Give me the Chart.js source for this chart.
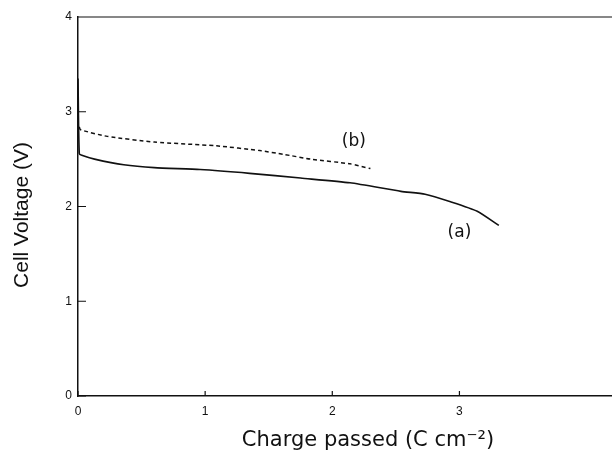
<!DOCTYPE html>
<html>
<head>
<meta charset="utf-8">
<script src="https://cdn.jsdelivr.net/npm/chart.js@4/dist/chart.umd.min.js"></script>
<style>
  html, body { margin: 0; padding: 0; background: #fff; }
  #wrap { width: 612px; height: 452px; }
</style>
</head>
<body>
<div id="wrap"><canvas id="myChart" width="612" height="452"></canvas></div>
<script>
'use strict';

// curve (a) - solid
var chargeA = [0, 0.01, 0.03, 0.13, 0.36, 0.6, 0.96, 1.35, 1.75, 2.14, 2.54, 2.73, 2.93, 3.14, 3.31];
var voltA = [3.35, 2.56, 2.54, 2.50, 2.44, 2.41, 2.39, 2.35, 2.30, 2.25, 2.16, 2.13, 2.05, 1.95, 1.80];

// curve (b) - dashed
var chargeB = [0.01, 0.02, 0.23, 0.6, 1.09, 1.43, 1.62, 1.83, 2.14, 2.30];
var voltB = [2.84, 2.81, 2.74, 2.68, 2.64, 2.59, 2.55, 2.50, 2.45, 2.40];

var xTicks = [0, 1, 2, 3];
var yTicks = [0, 1, 2, 3, 4];

function pts(xs, ys) {
  return xs.map(function (x, i) { return { x: x, y: ys[i] }; });
}

// inward ticks, top frame, curve labels and axis titles
var extras = {
  id: 'extras',
  afterDraw: function (chart) {
    var c = chart.ctx;
    var area = chart.chartArea;
    var sx = chart.scales.x;
    var sy = chart.scales.y;
    c.save();
    c.strokeStyle = '#111';
    c.lineWidth = 1.2;
    c.beginPath();
    c.moveTo(area.left, area.top);
    c.lineTo(area.right, area.top);
    yTicks.forEach(function (v) {
      var p = sy.getPixelForValue(v);
      c.moveTo(area.left, p);
      c.lineTo(area.left + 8, p);
    });
    xTicks.forEach(function (v) {
      var p = sx.getPixelForValue(v);
      c.moveTo(p, area.bottom);
      c.lineTo(p, area.bottom - 5);
    });
    c.stroke();

    c.fillStyle = '#111';
    c.font = '17px "DejaVu Sans"';
    c.textAlign = 'center';
    c.textBaseline = 'middle';
    c.fillText('(a)', sx.getPixelForValue(3.0), sy.getPixelForValue(1.72));
    c.fillText('(b)', sx.getPixelForValue(2.17), sy.getPixelForValue(2.69));

    c.font = '21px "DejaVu Sans"';
    c.fillText('Charge passed (C cm\u207B\u00B2)', 368, 441);

    c.translate(22, 215);
    c.rotate(-Math.PI / 2);
    c.font = '21px "Liberation Sans"';
    c.fillText('Cell Voltage (V)', 0, 0);
    c.restore();
  }
};

var ctx = document.getElementById('myChart').getContext('2d');
var chart = new Chart(ctx, {
  type: 'line',
  data: {
    datasets: [{
      label: '(a)',
      data: pts(chargeA, voltA),
      borderColor: '#111',
      borderWidth: 1.6,
      pointRadius: 0,
      tension: 0.2,
      clip: false
    },
    {
      label: '(b)',
      data: pts(chargeB, voltB),
      borderColor: '#111',
      borderWidth: 1.5,
      borderDash: [4, 3],
      pointRadius: 0,
      tension: 0.2,
      clip: false
    }]
  },
  options: {
    responsive: false,
    animation: false,
    layout: { padding: { top: 17, right: 0, left: 0, bottom: 0 } },
    plugins: { legend: { display: false }, tooltip: { enabled: false } },
    scales: {
      x: {
        type: 'linear',
        min: 0,
        max: 4.2,
        afterFit: function (s) { s.height = 56; },
        afterBuildTicks: function (s) { s.ticks = xTicks.map(function (v) { return { value: v }; }); },
        grid: { display: false, drawTicks: false },
        border: { display: true, color: '#111', width: 1.5 },
        ticks: { color: '#111', padding: 8, font: { family: 'Liberation Sans', size: 12 } }
      },
      y: {
        min: 0,
        max: 4,
        afterFit: function (s) { s.width = 78; },
        afterBuildTicks: function (s) { s.ticks = yTicks.map(function (v) { return { value: v }; }); },
        grid: { display: false, drawTicks: false },
        border: { display: true, color: '#111', width: 1.5 },
        ticks: { color: '#111', padding: 6, font: { family: 'Liberation Sans', size: 12 } }
      }
    }
  },
  plugins: [extras]
});
</script>
</body>
</html>
